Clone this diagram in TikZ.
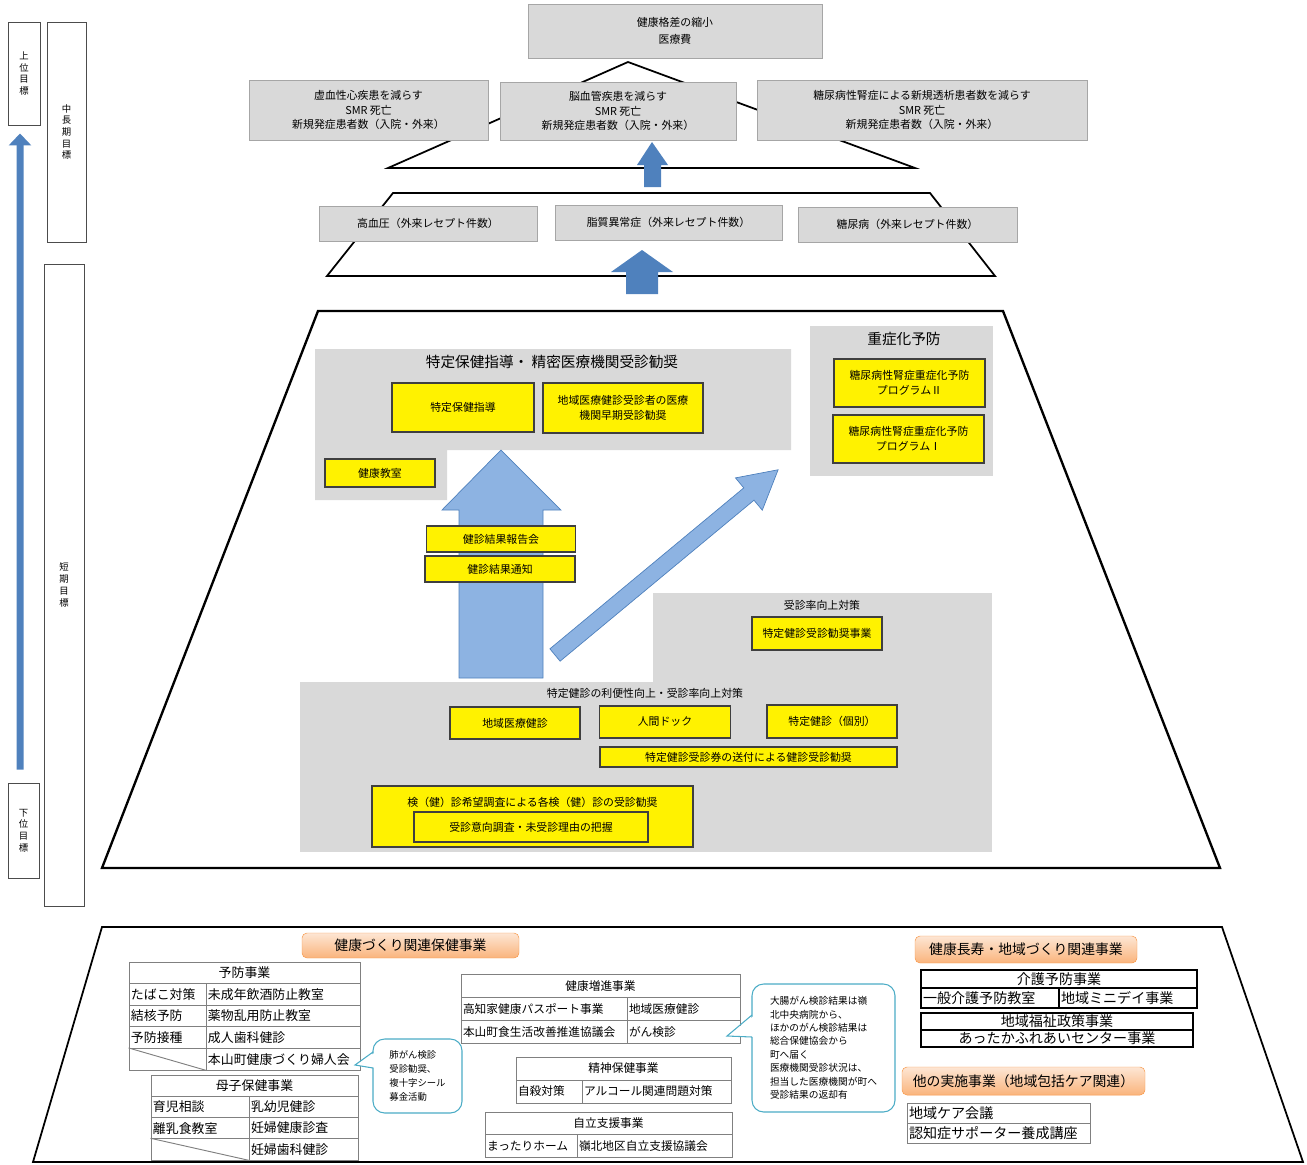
\documentclass[tikz,border=0pt]{standalone}
\usepackage{fontspec}
\setmainfont{Noto Sans CJK JP}
\usetikzlibrary{arrows.meta, positioning}
\definecolor{boxgray}{HTML}{D9D9D9}
\definecolor{linegray}{HTML}{A6A6A6}
\definecolor{tblgray}{HTML}{808080}
\definecolor{ydark}{HTML}{3F3F3F}
\definecolor{arrowblue}{HTML}{4F81BD}
\definecolor{lightblue}{HTML}{8DB3E2}
\definecolor{callblue}{HTML}{4BACC6}
\definecolor{orangetop}{HTML}{FDE6D4}
\definecolor{orangebot}{HTML}{FAB47C}
\definecolor{orangeline}{HTML}{F79646}
\newcommand\boxfont{\fontsize{9.3}{12.5}\selectfont}
\newcommand\titlefont{\fontsize{12.5}{14}\selectfont}
\newcommand\sidefont{\fontsize{8}{10}\selectfont}
\newcommand\tblfont{\fontsize{11}{13}\selectfont}
\newcommand\midfont{\fontsize{10}{12}\selectfont}
\newcommand\rtfont{\fontsize{12}{13}\selectfont}
\newcommand\tagfont{\fontsize{11.8}{13}\selectfont}
\newcommand\notefont{\fontsize{8}{12}\selectfont}
\newcommand\lcell[2]{\makebox[#1][l]{#2}}

\begin{document}
\begin{tikzpicture}[x=0.03cm, y=-0.03cm,
  sz/.style 2 args={minimum width=#1*0.03cm, minimum height=#2*0.03cm},
  gbox/.style={draw=linegray, fill=boxgray, inner sep=0pt, align=center, font=\boxfont},
  ybox/.style={draw=ydark, fill=yellow, line width=0.9pt, inner sep=0pt, align=center, font=\boxfont},
  sidebox/.style={draw=black!70, fill=white, line width=0.8pt, inner sep=0pt, align=center, font=\sidefont},
  tier/.style={draw=black, line width=1.5pt},
  tcell/.style={draw=tblgray, line width=0.8pt, inner xsep=0.06cm, inner ysep=0pt, font=\tblfont},
  mcell/.style={tcell, font=\midfont},
  rcell/.style={tcell, draw=black, line width=1pt, font=\rtfont},
  tagbox/.style={draw=orangeline, top color=orangetop, bottom color=orangebot, rounded corners=0.15cm, inner sep=0pt, font=\tagfont},
  notebox/.style={draw=callblue, line width=0.9pt, fill=white, rounded corners=0.35cm, inner sep=0pt, align=left, font=\notefont}]
  \useasboundingbox (0,0) rectangle (1307,1164);

  \node[sidebox, sz={32}{103}] (upper) at (24,73.5) {上\\位\\目\\標};
  \node[sidebox, sz={39}{220}] (midterm) at (66.5,132) {中\\長\\期\\目\\標};
  \node[sidebox, sz={40}{642}] (shortterm) at (64,585) {短\\期\\目\\標};
  \node[sidebox, sz={31}{95}] (lower) at (23.5,830.5) {下\\位\\目\\標};
  \draw[arrowblue, line width=0.21cm, -{Triangle[length=0.36cm, width=0.66cm]}, shorten <=0.39cm, shorten >=0.24cm]
    ([xshift=-0.1cm]lower.north) -- ([xshift=-0.12cm]upper.south);

  \draw[tier] (388,168) -- (628,62) -- (915,168) -- cycle;
  \node[gbox, sz={294}{54}, font=\fontsize{9.3}{15}\selectfont] (goal) at (675,31) {健康格差の縮小\\医療費};
  \node[gbox, sz={239}{60}] (ischemic) at (368.5,110) {虚血性心疾患を減らす\\SMR 死亡\\新規発症患者数（入院・外来）};
  \node[gbox, sz={236}{58}] (cerebro) at (618,111) {脳血管疾患を減らす\\SMR 死亡\\新規発症患者数（入院・外来）};
  \node[gbox, sz={330}{60}] (nephro) at (922,110) {糖尿病性腎症による新規透析患者数を減らす\\SMR 死亡\\新規発症患者数（入院・外来）};
  \fill[arrowblue] (652,142) -- (668,165) -- (661,165) -- (661,187) -- (644,187) -- (644,165) -- (637,165) -- cycle;

  \draw[tier] (393,193) -- (930,193) -- (995,276) -- (327,276) -- cycle;
  \node[gbox, sz={218}{35}] (hbp) at (428,223.5) {高血圧（外来レセプト件数）};
  \node[gbox, sz={227}{35}] (lipid) at (668.5,222.5) {脂質異常症（外来レセプト件数）};
  \node[gbox, sz={219}{35}] (dm) at (907.5,224.5) {糖尿病（外来レセプト件数）};
  \fill[arrowblue] (642,250) -- (673,272) -- (658,272) -- (658,294) -- (626,294) -- (626,272) -- (611,272) -- cycle;

  \draw[tier, line width=2pt] (318,311) -- (1003,311) -- (1220,868) -- (102,868) -- cycle;
  \fill[boxgray] (315,349) -- (791,349) -- (791,450) -- (447,450) -- (447,500) -- (315,500) -- cycle;
  \fill[boxgray] (810,326) rectangle (993,476);
  \fill[boxgray] (653,593) rectangle (992,682);
  \fill[boxgray] (300,682) rectangle (992,852);

  \node[font=\titlefont] (t-hoken) at (552,362) {特定保健指導・ 精密医療機関受診勧奨};
  \node[ybox, sz={142}{49}] (hokenshido) at (463,407.5) {特定保健指導};
  \node[ybox, sz={160}{50}] (sokiju) at (623,408) {地域医療健診受診者の医療\\機関早期受診勧奨};
  \node[ybox, sz={110}{28}] (kyoshitsu) at (380,473) {健康教室};

  \node[font=\titlefont] (t-jusho) at (904,339) {重症化予防};
  \node[ybox, sz={151}{48}] (prog2) at (909.5,383) {糖尿病性腎症重症化予防\\プログラムⅡ};
  \node[ybox, sz={151}{48}] (prog1) at (908.5,439) {糖尿病性腎症重症化予防\\プログラムⅠ};

  \filldraw[fill=lightblue, draw=arrowblue, line width=0.6pt] (501,450) -- (561,510) -- (543,510) -- (543,678) -- (459,678) -- (459,510) -- (442,510) -- cycle;
  \begin{scope}[shift={(555,655)}, rotate=39.7]
    \filldraw[fill=lightblue, draw=arrowblue, line width=0.6pt] (0,-8) -- (252,-8) -- (252,-21) -- (290,0) -- (252,21) -- (252,8) -- (0,8) -- cycle;
  \end{scope}
  \node[ybox, sz={149}{26}] (hokokukai) at (501,539) {健診結果報告会};
  \node[ybox, sz={150}{26}] (tsuchi) at (500,569) {健診結果通知};

  \node[font=\boxfont] (t-jushin) at (822,605) {受診率向上対策};
  \node[ybox, sz={130}{33}] (kansho) at (817,633.5) {特定健診受診勧奨事業};
  \node[font=\boxfont] (t-riben) at (645,693) {特定健診の利便性向上・受診率向上対策};
  \node[ybox, sz={130}{32}] (chiikikenshin) at (515,723) {地域医療健診};
  \node[ybox, sz={131}{32}] (dock) at (665,722) {人間ドック};
  \node[ybox, sz={130}{33}] (kobetsu) at (832,721.5) {特定健診（個別）};
  \node[ybox, sz={297}{20}] (jushinken) at (748.5,757) {特定健診受診券の送付による健診受診勧奨};
  \node[ybox, sz={321}{61}] (kibo) at (532.5,816.5) {};
  \node[font=\boxfont] (kibo-t) at (532.5,802) {検（健）診希望調査による各検（健）診の受診勧奨};
  \node[ybox, sz={234}{30}] (iko) at (531,827) {受診意向調査・未受診理由の把握};

  \draw[tier] (102,927) -- (1222,927) -- (1303,1162) -- (33,1162) -- cycle;
  \node[tagbox, sz={217}{25}] (tag-hoken) at (410.5,945.5) {健康づくり関連保健事業};
  \node[tagbox, sz={222}{27}] (tag-choju) at (1026,949.5) {健康長寿・地域づくり関連事業};
  \node[tagbox, sz={243}{28}] (tag-hoka) at (1023.5,1081) {他の実施事業（地域包括ケア関連）};

  \node[tcell, sz={231}{21.6}] (yobo) at (244.5,972.8) {予防事業};
  \foreach \r/\a/\b in {1/たばこ対策/未成年飲酒防止教室, 2/結核予防/薬物乱用防止教室, 3/予防接種/成人歯科健診, 4//本山町健康づくり婦人会}{
    \node[tcell, sz={77}{21.6}] (yobo-\r-a) at (167.5,972.8+\r*21.6) {\lcell{2.19cm}{\a}};
    \node[tcell, sz={154}{21.6}] (yobo-\r-b) at (283,972.8+\r*21.6) {\lcell{4.5cm}{\b}};
  }
  \draw[tblgray, line width=0.8pt] (yobo-4-a.north west) -- (yobo-4-a.south east);

  \node[tcell, sz={207}{21.25}] (boshi) at (254.5,1085.6) {母子保健事業};
  \foreach \r/\a/\b in {1/育児相談/乳幼児健診, 2/離乳食教室/妊婦健康診査, 3//妊婦歯科健診}{
    \node[tcell, sz={98}{21.25}] (boshi-\r-a) at (200,1085.6+\r*21.25) {\lcell{2.82cm}{\a}};
    \node[tcell, sz={109}{21.25}] (boshi-\r-b) at (303.5,1085.6+\r*21.25) {\lcell{3.15cm}{\b}};
  }
  \draw[tblgray, line width=0.8pt] (boshi-3-a.north west) -- (boshi-3-a.south east);

  \node[mcell, sz={279}{23.3}] (zoshin) at (600.5,985.65) {健康増進事業};
  \foreach \r/\a/\b in {1/高知家健康パスポート事業/地域医療健診, 2/本山町食生活改善推進協議会/がん検診}{
    \node[mcell, sz={166}{23.3}] (zoshin-\r-a) at (544,985.65+\r*23.3) {\lcell{4.86cm}{\a}};
    \node[mcell, sz={113}{23.3}] (zoshin-\r-b) at (683.5,985.65+\r*23.3) {\lcell{3.27cm}{\b}};
  }

  \node[mcell, sz={215}{23}] (seishin) at (623.5,1068.5) {精神保健事業};
  \node[mcell, sz={66}{23}] (seishin-a) at (549,1091.5) {\lcell{1.86cm}{自殺対策}};
  \node[mcell, sz={149}{23}] (seishin-b) at (656.5,1091.5) {\lcell{4.35cm}{アルコール関連問題対策}};

  \node[mcell, sz={247}{22.5}] (jiritsu) at (608.5,1123.25) {自立支援事業};
  \node[mcell, sz={92}{22.5}] (jiritsu-a) at (531,1145.75) {\lcell{2.64cm}{まったりホーム}};
  \node[mcell, sz={155}{22.5}] (jiritsu-b) at (654.5,1145.75) {\lcell{4.53cm}{嶺北地区自立支援協議会}};

  \node[notebox, sz={89}{74}] (note-fujin) at (417.5,1076) {肺がん検診\\受診勧奨、\\複十字シール\\募金活動};
  \fill[white] (376,1052) -- (355,1065) -- (376,1068) -- cycle;
  \draw[callblue, line width=0.9pt] (373,1052) -- (355,1065) -- (373,1068);

  \node[notebox, sz={143}{128}, font=\fontsize{8.3}{11.5}\selectfont] (note-gan) at (823.5,1048) {大腸がん検診結果は嶺\\北中央病院から、\\ほかのがん検診結果は\\総合保健協会から\\町へ届く\\医療機関受診状況は、\\担当した医療機関が町へ\\受診結果の返却有};
  \fill[white] (755,1015) -- (727,1036) -- (755,1037) -- cycle;
  \draw[callblue, line width=0.9pt] (752,1015) -- (727,1036) -- (752,1037);

  \node[rcell, sz={276}{18}] (kaigo) at (1059,979) {介護予防事業};
  \node[rcell, sz={138}{20}] (kaigo-a) at (990,998) {\lcell{4.02cm}{一般介護予防教室}};
  \node[rcell, sz={138}{20}] (kaigo-b) at (1128,998) {\lcell{4.02cm}{地域ミニデイ事業}};
  \node[rcell, sz={272}{17}] (fukushi) at (1057,1021.5) {地域福祉政策事業};
  \node[rcell, sz={272}{17}] (fukushi-a) at (1057,1038.5) {あったかふれあいセンター事業};

  \node[tcell, font=\rtfont, sz={183}{20}] (care-a) at (998.5,1113) {\lcell{5.37cm}{地域ケア会議}};
  \node[tcell, font=\rtfont, sz={183}{20}] (care-b) at (998.5,1133) {\lcell{5.37cm}{認知症サポーター養成講座}};
\end{tikzpicture}
\end{document}
